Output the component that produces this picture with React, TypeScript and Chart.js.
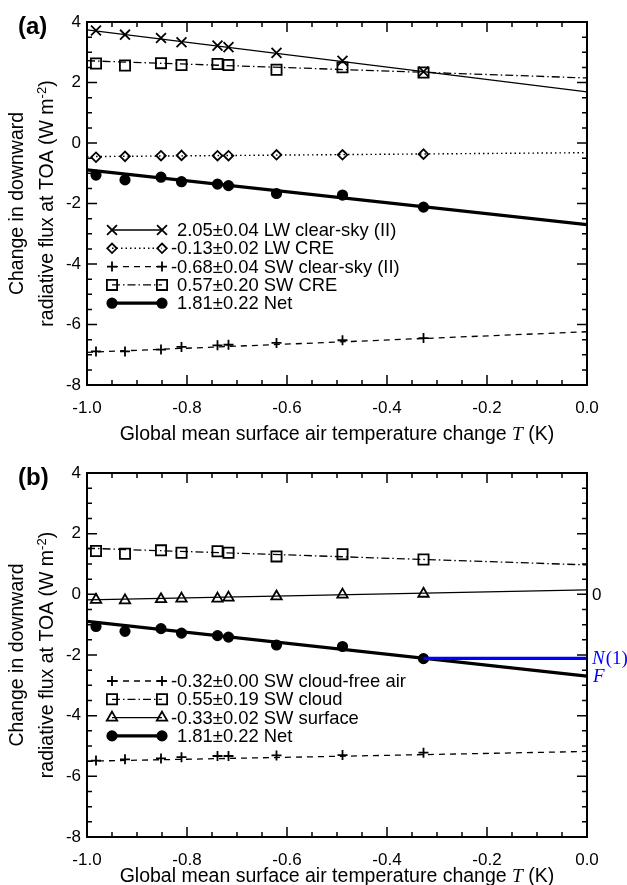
import React, { useEffect, useRef } from 'react';
import { Chart, registerables } from 'chart.js';

Chart.register(...registerables);

const FONT = '"Liberation Sans", Arial, Helvetica, sans-serif';
const SERIF = '"Liberation Serif", "Times New Roman", serif';

// ---- data -------------------------------------------------------------
// global mean surface air temperature change of each simulation (K)
const tempChange = [-0.982, -0.924, -0.852, -0.811, -0.739, -0.717, -0.621, -0.489, -0.327];

// panel (a)
const lwClearSky = [3.72, 3.58, 3.47, 3.33, 3.22, 3.17, 2.98, 2.72, 2.36];
const lwCre = [-0.47, -0.44, -0.42, -0.41, -0.42, -0.42, -0.39, -0.39, -0.37];
const swClearSky = [-6.89, -6.89, -6.83, -6.74, -6.69, -6.67, -6.61, -6.52, -6.45];
const swCre = [2.63, 2.56, 2.64, 2.58, 2.61, 2.58, 2.42, 2.5, 2.33];
const netFlux = [-1.06, -1.22, -1.13, -1.28, -1.36, -1.41, -1.67, -1.72, -2.12];

// panel (b)
const swCloudFree = [-5.48, -5.44, -5.41, -5.37, -5.33, -5.33, -5.31, -5.3, -5.22];
const swCloud = [1.43, 1.34, 1.45, 1.37, 1.42, 1.37, 1.25, 1.32, 1.15];
const swSurface = [-0.18, -0.2, -0.16, -0.14, -0.14, -0.11, -0.07, -0.01, 0.02];

// regression lines evaluated at T = -1 and T = 0
const fitT = [-1, 0];
const lwClearSkyFit = [3.74, 1.69];
const lwCreFit = [-0.45, -0.32];
const swClearSkyFit = [-6.92, -6.24];
const swCreFit = [2.72, 2.15];
const netFit = [-0.89, -2.7];
const swCloudFreeFit = [-5.5, -5.18];
const swCloudFit = [1.52, 0.97];
const swSurfaceFit = [-0.18, 0.15];

// N(1) reference line (panel b)
const nOneT = [-0.327, 0];
const nOneValue = [-2.11, -2.11];

// ticks
const xTickValues = [-1.0, -0.8, -0.6, -0.4, -0.2, 0.0];
const yTickValues = [4, 2, 0, -2, -4, -6, -8];
const xMinorStep = 0.05;
const yMinorStep = 0.5;

// legend texts
const legendTextA = [
  '2.05\u00b10.04 LW clear-sky (II)',
  '-0.13\u00b10.02 LW CRE',
  '-0.68\u00b10.04 SW clear-sky (II)',
  '0.57\u00b10.20 SW CRE',
  '1.81\u00b10.22 Net',
];
const legendTextB = [
  '-0.32\u00b10.00 SW cloud-free air',
  '0.55\u00b10.19 SW cloud',
  '-0.33\u00b10.02 SW surface',
  '1.81\u00b10.22 Net',
];

// ---- styles -----------------------------------------------------------
type Style = {
  marker: string;
  radius: number;
  dash: number[];
  lineWidth: number;
  fill: boolean;
};
const sLwClear: Style = { marker: 'crossRot', radius: 7, dash: [], lineWidth: 1.3, fill: false };
const sLwCre: Style = { marker: 'rectRot', radius: 4.8, dash: [1.5, 3], lineWidth: 1.4, fill: false };
const sSwClear: Style = { marker: 'cross', radius: 5, dash: [6, 5], lineWidth: 1.3, fill: false };
const sSwCre: Style = { marker: 'rect', radius: 7.2, dash: [8, 3, 1.5, 3], lineWidth: 1.3, fill: false };
const sNet: Style = { marker: 'circle', radius: 4.7, dash: [], lineWidth: 3.2, fill: true };
const sTri: Style = { marker: 'triangle', radius: 6, dash: [], lineWidth: 1.3, fill: false };
const MARKER_LW = 1.8;

type Series = { values: number[]; fit: number[]; style: Style; legend: string };

type PanelSpec = {
  letter: string;
  canvasH: number;
  areaTop: number;
  areaBottom: number;
  xTitleY: number;
  series: Series[];
  extras: boolean;
};

const panelA: PanelSpec = {
  letter: '(a)',
  canvasH: 450,
  areaTop: 22,
  areaBottom: 385,
  xTitleY: 435,
  extras: false,
  series: [
    { values: lwClearSky, fit: lwClearSkyFit, style: sLwClear, legend: legendTextA[0] },
    { values: lwCre, fit: lwCreFit, style: sLwCre, legend: legendTextA[1] },
    { values: swClearSky, fit: swClearSkyFit, style: sSwClear, legend: legendTextA[2] },
    { values: swCre, fit: swCreFit, style: sSwCre, legend: legendTextA[3] },
    { values: netFlux, fit: netFit, style: sNet, legend: legendTextA[4] },
  ],
};

const panelB: PanelSpec = {
  letter: '(b)',
  canvasH: 435,
  areaTop: 23,
  areaBottom: 387,
  xTitleY: 427,
  extras: true,
  series: [
    { values: swCloudFree, fit: swCloudFreeFit, style: sSwClear, legend: legendTextB[0] },
    { values: swCloud, fit: swCloudFit, style: sSwCre, legend: legendTextB[1] },
    { values: swSurface, fit: swSurfaceFit, style: sTri, legend: legendTextB[2] },
    { values: netFlux, fit: netFit, style: sNet, legend: legendTextB[3] },
  ],
};

function drawMarker(ctx: CanvasRenderingContext2D, style: string, x: number, y: number, r: number, fill: boolean) {
  ctx.beginPath();
  switch (style) {
    case 'circle':
      ctx.arc(x, y, r, 0, Math.PI * 2);
      break;
    case 'rect': {
      const s = r * Math.SQRT1_2;
      ctx.rect(x - s, y - s, 2 * s, 2 * s);
      break;
    }
    case 'rectRot':
      ctx.moveTo(x - r, y);
      ctx.lineTo(x, y - r);
      ctx.lineTo(x + r, y);
      ctx.lineTo(x, y + r);
      ctx.closePath();
      break;
    case 'cross':
      ctx.moveTo(x - r, y);
      ctx.lineTo(x + r, y);
      ctx.moveTo(x, y - r);
      ctx.lineTo(x, y + r);
      break;
    case 'crossRot': {
      const o = r * Math.SQRT1_2;
      ctx.moveTo(x - o, y - o);
      ctx.lineTo(x + o, y + o);
      ctx.moveTo(x - o, y + o);
      ctx.lineTo(x + o, y - o);
      break;
    }
    case 'triangle':
      ctx.moveTo(x, y - r);
      ctx.lineTo(x + r * 0.866, y + r * 0.5);
      ctx.lineTo(x - r * 0.866, y + r * 0.5);
      ctx.closePath();
      break;
  }
  if (fill) {
    ctx.fillStyle = '#000';
    ctx.fill();
  }
  ctx.stroke();
}

function buildConfig(spec: PanelSpec): any {
  const markerSets: any[] = [];
  const lineSets: any[] = [];
  spec.series.forEach((s) => {
    markerSets.push({
      data: tempChange.map((t, i) => ({ x: t, y: s.values[i] })),
      showLine: false,
      pointStyle: s.style.marker,
      pointRadius: s.style.radius,
      pointBorderWidth: MARKER_LW,
      pointBorderColor: '#000',
      pointBackgroundColor: s.style.fill ? '#000' : 'rgba(0,0,0,0)',
    });
    lineSets.push({
      data: fitT.map((t, i) => ({ x: t, y: s.fit[i] })),
      showLine: true,
      borderColor: '#000',
      borderWidth: s.style.lineWidth,
      borderDash: s.style.dash,
      pointRadius: 0,
      fill: false,
    });
  });
  const datasets: any[] = [];
  if (spec.extras) {
    datasets.push({
      data: nOneT.map((t, i) => ({ x: t, y: nOneValue[i] })),
      showLine: true,
      borderColor: '#0000ff',
      borderWidth: 3.3,
      pointRadius: 0,
      fill: false,
    });
  }
  datasets.push(...markerSets, ...lineSets);

  const decor = {
    id: 'decor',
    afterDatasetsDraw(chart: any) {
      const ctx: CanvasRenderingContext2D = chart.ctx;
      const { left, right, top, bottom } = chart.chartArea;
      const xs = chart.scales.x;
      const ys = chart.scales.y;
      ctx.save();
      ctx.strokeStyle = '#000';
      ctx.fillStyle = '#000';
      ctx.setLineDash([]);
      // inward ticks on all four sides
      ctx.lineWidth = 1.5;
      const xMin = xTickValues[0];
      const xMax = xTickValues[xTickValues.length - 1];
      const nx = Math.round((xMax - xMin) / xMinorStep);
      for (let i = 0; i <= nx; i++) {
        const v = xMin + i * xMinorStep;
        const px = xs.getPixelForValue(v);
        const len = i % 4 === 0 ? 10 : 5;
        ctx.beginPath();
        ctx.moveTo(px, bottom);
        ctx.lineTo(px, bottom - len);
        ctx.moveTo(px, top);
        ctx.lineTo(px, top + len);
        ctx.stroke();
      }
      const yMin = yTickValues[yTickValues.length - 1];
      const yMax = yTickValues[0];
      const ny = Math.round((yMax - yMin) / yMinorStep);
      for (let i = 0; i <= ny; i++) {
        const v = yMin + i * yMinorStep;
        const py = ys.getPixelForValue(v);
        const len = i % 4 === 0 ? 10 : 5;
        ctx.beginPath();
        ctx.moveTo(left, py);
        ctx.lineTo(left + len, py);
        ctx.moveTo(right, py);
        ctx.lineTo(right - len, py);
        ctx.stroke();
      }
      ctx.lineWidth = 2;
      ctx.strokeRect(left, top, right - left, bottom - top);

      // legend
      const rowY0 = top + 208;
      const rowDy = 18.3;
      const x1 = left + 25;
      const x2 = left + 75;
      const tx = left + 90;
      ctx.font = `18.4px ${FONT}`;
      ctx.textBaseline = 'middle';
      ctx.textAlign = 'left';
      const minusW = ctx.measureText('-').width;
      spec.series.forEach((s, i) => {
        const y = rowY0 + i * rowDy;
        ctx.lineWidth = s.style.lineWidth;
        ctx.setLineDash(s.style.dash);
        ctx.beginPath();
        ctx.moveTo(x1, y);
        ctx.lineTo(x2, y);
        ctx.stroke();
        ctx.setLineDash([]);
        ctx.lineWidth = MARKER_LW;
        drawMarker(ctx, s.style.marker, x1, y, s.style.radius, s.style.fill);
        drawMarker(ctx, s.style.marker, x2, y, s.style.radius, s.style.fill);
        ctx.fillStyle = '#000';
        const txt = s.legend;
        const start = txt.startsWith('-') ? tx - minusW : tx;
        ctx.fillText(txt, start, y + 1);
      });

      if (spec.extras) {
        ctx.fillStyle = '#000';
        ctx.font = `17px ${FONT}`;
        ctx.textAlign = 'left';
        ctx.fillText('0', right + 5, ys.getPixelForValue(0) + 1);
        ctx.fillStyle = '#0000ff';
        const ny1 = ys.getPixelForValue(nOneValue[1]);
        ctx.font = `italic 19px ${SERIF}`;
        const wN = ctx.measureText('N').width;
        ctx.fillText('N', right + 5, ny1 + 1);
        ctx.font = `19px ${SERIF}`;
        ctx.fillText('(1)', right + 5 + wN + 1, ny1 + 1);
        ctx.font = `italic 19px ${SERIF}`;
        ctx.fillText('F', right + 6, ys.getPixelForValue(netFit[1]) + 1);
      }
      ctx.restore();
    },
    afterDraw(chart: any) {
      const ctx: CanvasRenderingContext2D = chart.ctx;
      const { left, right, top, bottom } = chart.chartArea;
      ctx.save();
      ctx.fillStyle = '#000';
      // panel letter
      ctx.font = `bold 24px ${FONT}`;
      ctx.textAlign = 'left';
      ctx.textBaseline = 'middle';
      ctx.fillText(spec.letter, 18, top + 5);

      // x title with italic T
      const p1 = 'Global mean surface air temperature change ';
      const p2 = 'T';
      const p3 = ' (K)';
      ctx.font = `19.5px ${FONT}`;
      const w1 = ctx.measureText(p1).width;
      const w3 = ctx.measureText(p3).width;
      ctx.font = `italic 19.5px ${SERIF}`;
      const w2 = ctx.measureText(p2).width;
      const total = w1 + w2 + w3;
      let x = (left + right) / 2 - total / 2;
      const ty = spec.xTitleY;
      ctx.textBaseline = 'middle';
      ctx.font = `19.5px ${FONT}`;
      ctx.fillText(p1, x, ty);
      x += w1;
      ctx.font = `italic 19.5px ${SERIF}`;
      ctx.fillText(p2, x, ty);
      x += w2;
      ctx.font = `19.5px ${FONT}`;
      ctx.fillText(p3, x, ty);

      // y title (two rotated lines)
      const cy = (top + bottom) / 2;
      ctx.translate(0, cy);
      ctx.rotate(-Math.PI / 2);
      ctx.textAlign = 'center';
      ctx.font = `19.5px ${FONT}`;
      ctx.fillText('Change in downward', 0, 18);
      const a1 = 'radiative flux at TOA (W m';
      const a2 = '-2';
      const a3 = ')';
      ctx.textAlign = 'left';
      const u1 = ctx.measureText(a1).width;
      const u3 = ctx.measureText(a3).width;
      ctx.font = `13px ${FONT}`;
      const u2 = ctx.measureText(a2).width;
      let xx = -(u1 + u2 + u3) / 2;
      ctx.font = `19.5px ${FONT}`;
      ctx.fillText(a1, xx, 48);
      xx += u1;
      ctx.font = `13px ${FONT}`;
      ctx.fillText(a2, xx, 42);
      xx += u2;
      ctx.font = `19.5px ${FONT}`;
      ctx.fillText(a3, xx, 48);
      ctx.restore();
    },
  };

  return {
    type: 'scatter',
    data: { datasets },
    plugins: [decor],
    options: {
      responsive: false,
      maintainAspectRatio: false,
      animation: false,
      events: [],
      layout: { padding: { left: 0, right: 627 - 587, top: spec.areaTop, bottom: 0 } },
      plugins: { legend: { display: false }, tooltip: { enabled: false } },
      scales: {
        x: {
          type: 'linear',
          position: 'bottom',
          min: -1,
          max: 0,
          afterBuildTicks: (s: any) => {
            s.ticks = xTickValues.map((v) => ({ value: v }));
          },
          afterFit: (s: any) => {
            s.height = spec.canvasH - spec.areaBottom;
          },
          grid: { display: false, drawTicks: false },
          border: { display: false },
          ticks: {
            padding: 13,
            color: '#000',
            autoSkip: false,
            maxRotation: 0,
            font: { family: FONT, size: 17 },
            callback: (v: any) => Number(v).toFixed(1),
          },
        },
        y: {
          type: 'linear',
          position: 'left',
          min: -8,
          max: 4,
          afterBuildTicks: (s: any) => {
            s.ticks = yTickValues.map((v) => ({ value: v }));
          },
          afterFit: (s: any) => {
            s.width = 87;
          },
          grid: { display: false, drawTicks: false },
          border: { display: false },
          ticks: {
            padding: 6,
            color: '#000',
            autoSkip: false,
            font: { family: FONT, size: 17 },
            callback: (v: any) => String(v),
          },
        },
      },
    },
  };
}

function Panel({ spec, top }: { spec: PanelSpec; top: number }) {
  const ref = useRef<HTMLCanvasElement>(null);
  useEffect(() => {
    const chart = new Chart(ref.current as HTMLCanvasElement, buildConfig(spec));
    return () => chart.destroy();
  }, [spec]);
  return (
    <div style={{ position: 'absolute', left: 0, top, width: 627, height: spec.canvasH }}>
      <canvas ref={ref} width={627} height={spec.canvasH} style={{ display: 'block', width: 627, height: spec.canvasH }} />
    </div>
  );
}

export default function App() {
  return (
    <div style={{ position: 'absolute', left: 0, top: 0, width: 627, height: 885, background: '#fff', overflow: 'hidden' }}>
      <Panel spec={panelA} top={0} />
      <Panel spec={panelB} top={450} />
    </div>
  );
}
